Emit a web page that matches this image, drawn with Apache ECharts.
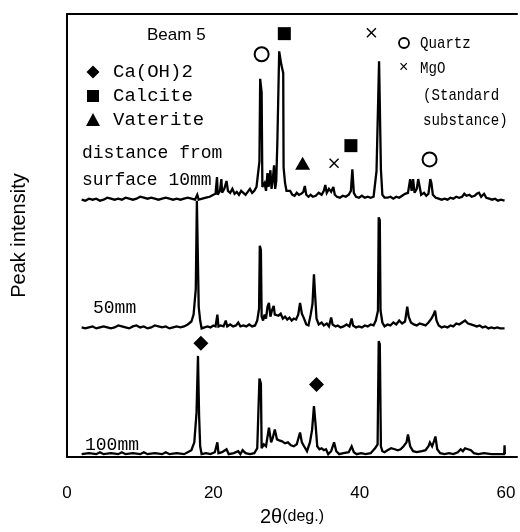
<!DOCTYPE html>
<html>
<head>
<meta charset="utf-8">
<script src="https://cdn.jsdelivr.net/npm/echarts@6/dist/echarts.min.js"></script>
<style>
  html, body { margin: 0; padding: 0; background: #fff; }
  #chart { width: 520px; height: 532px; }
</style>
</head>
<body>
<div id="chart"></div>
<script>
// 2theta (deg) / intensity above each trace's own baseline
var trace10mm = [
  [2.0,1],[2.5,0],[3,2],[3.5,1],[4,2],[4.5,0],[5,1],[5.5,3],[6,2],[6.5,1],[7,2],[7.5,1],[8,3],[8.5,2],[9,1],[9.5,2],
  [10,4],[10.5,3],[11,2],[11.5,3],[12,2],[12.5,1],[13,2],[13.5,3],[14,2],[14.5,1],[15,2],[15.5,1],[16,2],[16.5,3],
  [17,2],[17.5,1],[17.8,6],[18.0,1],[18.5,2],[19,3],[19.5,4],[20,6],[20.3,7],[20.5,24],[20.6,6],[20.9,10],[21.1,22],
  [21.2,8],[21.5,12],[21.8,20],[22,10],[22.3,8],[22.6,12],[22.9,7],[23.2,9],[23.5,6],[23.8,10],[24.1,8],[24.4,6],
  [24.7,9],[25.0,12],[25.3,8],[25.6,10],[25.9,14],[26.1,16],[26.3,40],[26.4,124],[26.6,110],[26.7,14],[27.0,18],
  [27.2,10],[27.4,28],[27.55,14],[27.8,31],[27.95,12],[28.1,20],[28.3,36],[28.45,12],[28.6,20],[28.75,60],[29.0,152],
  [29.3,138],[29.55,130],[29.6,34],[29.8,18],[30.0,10],[30.2,8],[30.5,10],[30.8,6],[31.1,5],[31.4,8],[31.7,6],
  [32.0,7],[32.3,9],[32.5,15],[32.7,6],[33.0,4],[33.3,6],[33.6,4],[34.0,5],[34.4,8],[34.8,6],[35.1,10],[35.3,16],
  [35.5,8],[35.8,12],[36.1,9],[36.4,14],[36.6,6],[36.9,4],[37.3,3],[37.7,5],[38.1,4],[38.5,6],[38.8,10],[39.0,32],
  [39.2,8],[39.5,4],[39.9,3],[40.3,5],[40.7,3],[41.1,4],[41.5,3],[41.9,4],[42.1,5],[42.3,30],[42.55,32],[42.65,142],
  [42.8,140],[42.9,32],[43.1,6],[43.4,3],[43.8,3],[44.2,4],[44.6,2],[45.0,4],[45.4,3],[45.8,5],[46.2,7],[46.6,8],
  [46.9,22],[47.1,10],[47.3,22],[47.5,8],[47.8,12],[48.0,22],[48.2,20],[48.4,6],[48.8,8],[49.1,5],[49.4,7],
  [49.65,22],[49.8,18],[50.0,6],[50.4,3],[50.8,2],[51.2,1],[51.6,2],[52.0,1],[52.4,3],[52.8,2],[53.2,4],[53.6,3],
  [54.0,4],[54.3,7],[54.6,5],[55.0,6],[55.3,4],[55.7,5],[56.0,7],[56.3,8],[56.6,4],[57.0,7],[57.3,3],[57.7,2],
  [58.1,1],[58.5,2],[58.9,0],[59.3,1],[59.8,0]
];
var trace50mm = [
  [2,1],[2.5,0],[3,1],[3.5,2],[4,0],[4.5,1],[5,2],[5.5,1],[6,0],[6.5,1],[7,3],[7.5,2],[8,1],[8.5,0],[9,2],[9.5,3],
  [10,1],[10.5,2],[11,0],[11.5,1],[12,3],[12.5,2],[13,1],[13.5,2],[14,0],[14.5,1],[15,2],[15.5,1],[16,2],[16.5,4],
  [17.0,7],[17.3,14],[17.6,40],[17.75,130],[17.85,128],[18.0,22],[18.2,8],[18.4,0],[18.8,1],[19.2,2],[19.6,1],
  [20.0,3],[20.3,2],[20.55,14],[20.7,2],[21.0,3],[21.4,2],[21.7,8],[21.9,2],[22.3,4],[22.7,2],[23.1,3],[23.4,6],
  [23.7,2],[24.1,3],[24.5,2],[24.9,4],[25.3,2],[25.7,3],[26.0,8],[26.25,20],[26.35,84],[26.5,80],[26.6,12],
  [26.8,8],[27.0,14],[27.2,10],[27.4,22],[27.6,26],[27.8,12],[28.0,18],[28.25,23],[28.4,14],[28.6,16],[28.9,13],
  [29.2,15],[29.5,10],[29.8,12],[30.1,9],[30.4,11],[30.7,8],[31.0,10],[31.3,9],[31.6,14],[31.85,26],[32.1,15],
  [32.4,10],[32.7,4],[33.0,3],[33.3,14],[33.55,25],[33.75,55],[33.9,35],[34.1,10],[34.4,4],[34.8,6],[35.1,3],
  [35.5,5],[35.8,2],[36.1,11],[36.3,4],[36.7,2],[37.0,3],[37.4,1],[37.8,2],[38.2,4],[38.6,2],[38.9,10],[39.1,3],
  [39.5,1],[39.9,2],[40.3,1],[40.7,3],[41.1,2],[41.5,4],[41.9,3],[42.2,8],[42.5,18],[42.6,113],[42.75,110],
  [42.85,18],[43.1,6],[43.4,2],[43.8,4],[44.2,3],[44.6,6],[45.0,4],[45.4,8],[45.8,5],[46.2,7],[46.5,22],[46.7,12],
  [47.0,6],[47.4,4],[47.8,3],[48.2,5],[48.6,4],[49.0,3],[49.4,6],[49.8,10],[50.1,14],[50.3,18],[50.5,8],[50.8,3],
  [51.2,1],[51.6,2],[52.0,1],[52.4,3],[52.8,2],[53.2,5],[53.6,4],[54.0,6],[54.4,8],[54.8,5],[55.2,4],[55.6,3],
  [56.0,2],[56.4,3],[56.8,1],[57.2,2],[57.6,0],[58.0,1],[58.4,0],[58.8,1],[59.2,0],[59.8,0]
];
var trace100mm = [
  [2,0],[3,1],[4,0],[4.5,2],[5,0],[6,1],[7,0],[7.5,2],[8,0],[9,1],[10,0],[10.5,2],[11,0],[12,1],[13,0],[13.5,2],
  [14,0],[15,1],[16,0],[16.5,2],[17.0,4],[17.4,12],[17.7,42],[17.9,100],[18.05,40],[18.2,8],[18.4,0],[19.0,1],
  [19.6,0],[20.2,2],[20.55,12],[20.7,1],[21.2,2],[21.8,5],[22.1,0],[22.8,1],[23.4,3],[23.7,0],[24.0,4],[24.4,1],
  [25.0,0],[25.6,1],[26.0,6],[26.3,77],[26.5,72],[26.6,6],[26.9,10],[27.2,8],[27.6,27],[27.9,12],[28.1,16],
  [28.4,25],[28.7,15],[29.0,14],[29.4,13],[29.8,11],[30.2,12],[30.6,9],[31.0,8],[31.4,10],[31.85,22],[32.1,12],
  [32.4,8],[32.8,3],[33.2,12],[33.5,25],[33.75,49],[33.95,32],[34.2,8],[34.5,5],[34.8,6],[35.1,4],[35.4,5],
  [35.7,0],[36.1,3],[36.5,12],[36.8,3],[37.2,0],[37.8,1],[38.5,2],[38.9,8],[39.2,2],[39.6,0],[40.2,1],[40.8,0],
  [41.5,1],[42.1,6],[42.45,10],[42.6,115],[42.75,112],[42.9,8],[43.1,3],[43.4,2],[43.8,4],[44.3,6],[44.8,5],
  [45.2,4],[45.6,5],[46.0,8],[46.4,12],[46.6,20],[46.9,8],[47.3,3],[47.8,2],[48.5,3],[49.0,4],[49.4,8],[49.6,12],
  [49.9,8],[50.2,14],[50.35,18],[50.6,5],[51.0,1],[51.6,0],[52.2,1],[52.8,0],[53.4,2],[53.8,5],[54.1,3],[54.4,6],
  [54.8,5],[55.2,4],[55.6,1],[56.2,0],[57.0,1],[58.0,0],[59.0,0],[59.75,0],[59.8,9],[59.85,0]
];
var traceOffsets = [261, 131, 3];

// peak labels, [2theta, height on the plot scale]
var quartzMarks = [[26.6, 410], [49.55, 303]];
var calciteMarks = [[29.7, 431], [38.8, 317]];
var vateriteMarks = [[32.2, 299]];
var mgoMarks = [[41.6, 432], [36.5, 299]];
var caohMarks = [[18.3, 116], [34.1, 74]];

var xTicks = [0, 20, 40, 60];

var chart = echarts.init(document.getElementById('chart'));

function shift(trace, off) {
  return trace.map(function (p) { return [p[0], p[1] + off]; });
}

function lineSeries(trace, off) {
  return {
    type: 'line',
    data: shift(trace, off),
    showSymbol: false,
    symbol: 'none',
    silent: true,
    lineStyle: { color: '#000', width: 2.3, join: 'miter', miterLimit: 3 },
    z: 2
  };
}

function markSeries(data, symbol, size, filled) {
  return {
    type: 'scatter',
    data: data,
    symbol: symbol,
    symbolSize: size,
    silent: true,
    itemStyle: filled
      ? { color: '#000', opacity: 1 }
      : { color: '#fff', borderColor: '#000', borderWidth: 2, opacity: 1 },
    z: 3
  };
}

var crossPath = 'path://M1,0L5,4L9,0L10,1L6,5L10,9L9,10L5,6L1,10L0,9L4,5L0,1Z';
var mono = 'Liberation Mono';

function txt(x, y, text, size, family, scaleX) {
  return {
    type: 'text',
    x: x,
    y: y,
    scaleX: scaleX || 1,
    silent: true,
    style: {
      text: text,
      font: size + 'px "' + family + '"',
      fill: '#000',
      verticalAlign: 'middle',
      align: 'left'
    }
  };
}

chart.setOption({
  animation: false,
  grid: { left: 67, right: 0, top: 14, bottom: 67 },
  xAxis: [{
    type: 'value',
    min: 0,
    max: 61.5,
    interval: 20,
    position: 'bottom',
    name: '{a|2θ}{b|(deg.)}',
    nameLocation: 'middle',
    nameGap: 46,
    nameTextStyle: {
      rich: {
        a: { fontSize: 20, fontFamily: 'Liberation Sans', color: '#000' },
        b: { fontSize: 16, fontFamily: 'Liberation Sans', color: '#000' }
      }
    },
    axisLine: { onZero: false, lineStyle: { color: '#000', width: 2 } },
    axisTick: { show: false },
    splitLine: { show: false },
    axisLabel: {
      margin: 28,
      fontSize: 17,
      fontFamily: 'Liberation Sans',
      color: '#000',
      formatter: function (v) { return xTicks.indexOf(v) >= 0 ? String(v) : ''; }
    }
  }, {
    type: 'value',
    min: 0,
    max: 61.5,
    position: 'top',
    axisLine: { onZero: false, lineStyle: { color: '#000', width: 2 } },
    axisTick: { show: false },
    axisLabel: { show: false },
    splitLine: { show: false }
  }],
  yAxis: {
    type: 'value',
    min: 0,
    max: 451,
    name: 'Peak intensity',
    nameLocation: 'middle',
    nameRotate: 90,
    nameGap: 38,
    nameTextStyle: { fontSize: 20, fontFamily: 'Liberation Sans', color: '#000' },
    axisLine: { show: true, lineStyle: { color: '#000', width: 2 } },
    axisTick: { show: false },
    axisLabel: { show: false },
    splitLine: { show: false }
  },
  series: [
    lineSeries(trace10mm, traceOffsets[0]),
    lineSeries(trace50mm, traceOffsets[1]),
    lineSeries(trace100mm, traceOffsets[2]),
    markSeries(quartzMarks, 'circle', 14, false),
    markSeries(calciteMarks, 'rect', 13, true),
    markSeries(vateriteMarks, 'triangle', [15, 13], true),
    markSeries(mgoMarks, crossPath, 10, true),
    markSeries(caohMarks, 'diamond', 15, true)
  ],
  graphic: [
    txt(147, 35, 'Beam 5', 17, 'Liberation Sans'),
    { type: 'polygon', shape: { points: [[93, 65.5], [99.5, 72], [93, 78.5], [86.5, 72]] }, style: { fill: '#000' } },
    txt(113, 72, 'Ca(OH)2', 19, mono),
    { type: 'rect', shape: { x: 87, y: 90, width: 12, height: 12 }, style: { fill: '#000' } },
    txt(113, 96, 'Calcite', 19, mono),
    { type: 'polygon', shape: { points: [[93, 113], [100, 126], [86, 126]] }, style: { fill: '#000' } },
    txt(113, 120, 'Vaterite', 19, mono),
    txt(82, 153, 'distance from', 18, mono),
    txt(82, 180, 'surface 10mm', 18, mono),
    txt(93, 308, '50mm', 18, mono),
    txt(85, 445, '100mm', 18, mono),
    { type: 'circle', shape: { cx: 404, cy: 43, r: 5 }, style: { fill: '#fff', stroke: '#000', lineWidth: 1.8 } },
    txt(420, 43, 'Quartz', 17, mono, 0.83),
    txt(399, 68, '×', 16, 'Liberation Sans'),
    txt(420, 68, 'MgO', 17, mono, 0.83),
    txt(423, 95, '(Standard', 17, mono, 0.83),
    txt(423, 120, 'substance)', 17, mono, 0.83)
  ]
});
</script>
</body>
</html>
